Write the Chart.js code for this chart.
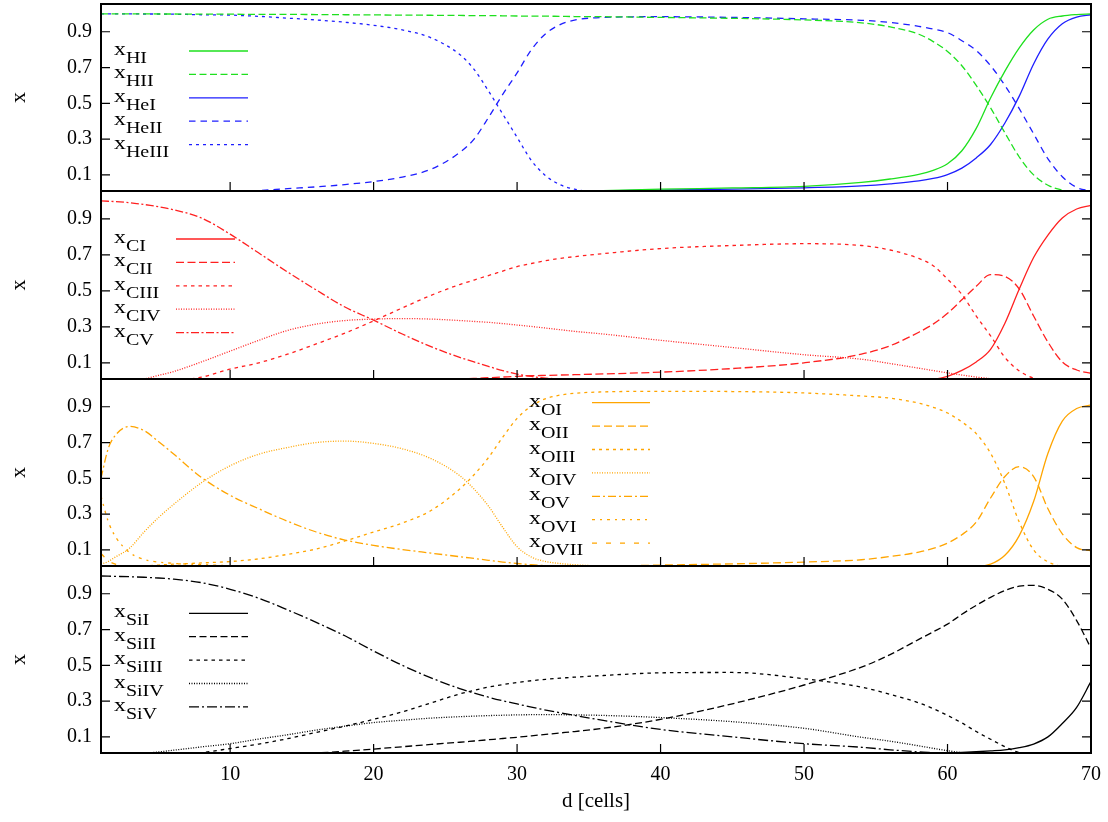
<!DOCTYPE html>
<html>
<head>
<meta charset="utf-8">
<script src="https://cdn.jsdelivr.net/npm/chart.js@4/dist/chart.umd.min.js"></script>
<style>
  body { margin: 0; background: #fff; width: 1108px; height: 822px; position: relative; overflow: hidden; }
  canvas { position: absolute; left: 0; }
</style>
</head>
<body>
<canvas id="p1" width="1108" height="231" style="top:-18px"></canvas>
<canvas id="p2" width="1108" height="232" style="top:169px"></canvas>
<canvas id="p3" width="1108" height="231" style="top:357px"></canvas>
<canvas id="p4" width="1111" height="278" style="top:544px"></canvas>
<script>
// cell positions where the curves were sampled
const cells = [1, 1.5, 2, 3, 4, 5, 6, 8, 10, 12, 14, 16, 18, 20, 22, 24, 26, 27, 28, 29, 30, 31, 32, 33, 34, 36, 40, 45, 50, 54, 56, 58, 59, 60, 61, 62, 63, 64, 65, 66, 67, 68, 69, 70];
const yTickValues = [0.1, 0.3, 0.5, 0.7, 0.9];
const xTickValues = [10, 20, 30, 40, 50, 60, 70];

// hydrogen / helium
const hLabels = ['HI', 'HII', 'HeI', 'HeII', 'HeIII'];
const xHI = [0,0,0,0,0,0,0,0,0,0,0,0,0,0,0,0,0,0,0,0,0,0,0, 0.005,0.008,0.012,0.02,0.027,0.036,0.058,0.077,0.103,0.125,0.162,0.235,0.36,0.53,0.68,0.81,0.91,0.97,0.988,0.996,1.0];
const xHII = [1,1,1,1,1,0.999,0.999,0.998,0.998,0.997,0.997,0.996,0.995,0.994,0.993,0.992,0.991,0.99,0.99,0.989,0.988,0.987,0.987,0.986,0.985,0.984,0.98,0.975,0.966,0.95,0.927,0.886,0.845,0.79,0.71,0.6,0.475,0.335,0.2,0.1,0.042,0.015,0.004,0];
const xHeI = [0,0,0,0,0,0,0,0,0,0,0,0,0,0,0,0,0,0,0,0,0,0,0,0, 0.006,0.01,0.015,0.02,0.028,0.039,0.05,0.066,0.08,0.102,0.138,0.195,0.27,0.39,0.54,0.72,0.86,0.945,0.982,0.995];
const xHeII = [0,0,0,0,0,0,0,0, 0.004,0.012,0.023,0.033,0.046,0.063,0.088,0.132,0.225,0.3,0.42,0.55,0.67,0.8,0.89,0.94,0.965,0.98,0.984,0.98,0.972,0.964,0.952,0.93,0.915,0.895,0.85,0.795,0.71,0.6,0.47,0.33,0.19,0.09,0.03,0.01];
const xHeIII = [1,1,1,1,0.999,0.999,0.998,0.995,0.993,0.986,0.976,0.966,0.953,0.936,0.91,0.866,0.773,0.69,0.57,0.44,0.31,0.18,0.095,0.045,0.02,0.004, 0,0,0,0,0,0,0,0,0,0,0,0,0,0,0,0,0,0];

// carbon
const cLabels = ['CI', 'CII', 'CIII', 'CIV', 'CV'];
const xCI = [0,0,0,0,0,0,0,0,0,0,0,0,0,0,0,0,0,0,0,0,0,0,0,0,0,0,0,0,0,0,0, 0.003,0.008,0.025,0.058,0.105,0.175,0.32,0.51,0.685,0.81,0.905,0.955,0.975];
const xCII = [0,0,0,0,0,0,0,0,0,0,0,0,0,0,0,0, 0.008,0.013,0.017,0.021,0.025,0.028,0.03,0.032,0.034,0.038,0.048,0.068,0.1,0.148,0.195,0.27,0.315,0.375,0.45,0.525,0.59,0.58,0.51,0.36,0.215,0.105,0.06,0.042];
const xCIII = [0,0,0,0,0,0,0.002,0.02,0.065,0.1,0.148,0.205,0.265,0.333,0.405,0.475,0.535,0.56,0.585,0.61,0.635,0.652,0.668,0.68,0.69,0.707,0.735,0.752,0.762,0.752,0.727,0.68,0.64,0.565,0.48,0.36,0.25,0.13,0.055,0.015,0.003,0,0,0];
const xCIV = [0,0,0,0.002,0.01,0.03,0.05,0.105,0.165,0.225,0.28,0.315,0.335,0.343,0.346,0.343,0.335,0.33,0.325,0.318,0.31,0.302,0.293,0.284,0.275,0.26,0.225,0.185,0.145,0.12,0.096,0.07,0.057,0.044,0.032,0.021,0.012,0.006,0.002,0,0,0,0,0];
const xCV = [1,0.998,0.996,0.99,0.98,0.968,0.952,0.905,0.815,0.71,0.605,0.505,0.41,0.337,0.26,0.19,0.13,0.105,0.08,0.057,0.037,0.024,0.015,0.01,0.007,0.003, 0,0,0,0,0,0,0,0,0,0,0,0,0,0,0,0,0,0];

// oxygen
const oLabels = ['OI', 'OII', 'OIII', 'OIV', 'OV', 'OVI', 'OVII'];
const xOI = [0,0,0,0,0,0,0,0,0,0,0,0,0,0,0,0,0,0,0,0,0,0,0,0,0,0,0,0,0,0,0,0,0,0,0, 0.004,0.02,0.07,0.18,0.37,0.64,0.82,0.89,0.91];
const xOII = [0,0,0,0,0,0,0,0,0,0,0,0,0,0,0,0,0,0,0,0,0,0,0,0, 0.003,0.008,0.015,0.022,0.032,0.045,0.063,0.088,0.108,0.138,0.185,0.255,0.39,0.51,0.565,0.51,0.33,0.19,0.113,0.095];
const xOIII = [0,0,0,0.005,0.01,0.015,0.02,0.027,0.035,0.05,0.075,0.105,0.15,0.2,0.25,0.32,0.44,0.52,0.615,0.73,0.835,0.905,0.945,0.965,0.975,0.983,0.986,0.985,0.977,0.96,0.948,0.92,0.897,0.865,0.815,0.75,0.64,0.47,0.255,0.1,0.033,0.008,0,0];
const xOIV = [0.02,0.035,0.06,0.11,0.2,0.28,0.35,0.475,0.57,0.635,0.672,0.7,0.708,0.695,0.665,0.61,0.515,0.44,0.345,0.226,0.118,0.06,0.035,0.024,0.017,0.01,0.003, 0,0,0,0,0,0,0,0,0,0,0,0,0,0,0,0,0];
const xOV = [0.5,0.665,0.74,0.79,0.767,0.706,0.64,0.505,0.405,0.33,0.26,0.2,0.155,0.125,0.102,0.082,0.062,0.052,0.042,0.032,0.024,0.017,0.012,0.008,0.005,0.002, 0,0,0,0,0,0,0,0,0,0,0,0,0,0,0,0,0,0];
const xOVI = [0.4,0.26,0.175,0.085,0.047,0.032,0.025,0.018,0.012,0.008,0.005,0.003,0.001, 0,0,0,0,0,0,0,0,0,0,0,0,0,0,0,0,0,0,0,0,0,0,0,0,0,0,0,0,0,0,0];
const xOVII = [0.08,0.04,0.02,0.005, 0,0,0,0,0,0,0,0,0,0,0,0,0,0,0,0,0,0,0,0,0,0,0,0,0,0,0,0,0,0,0,0,0,0,0,0,0,0,0,0];

// silicon
const siLabels = ['SiI', 'SiII', 'SiIII', 'SiIV', 'SiV'];
const xSiI = [0,0,0,0,0,0,0,0,0,0,0,0,0,0,0,0,0,0,0,0,0,0,0,0,0,0,0,0,0,0,0,0, 0.005,0.01,0.013,0.017,0.022,0.028,0.04,0.06,0.1,0.175,0.265,0.41];
const xSiII = [0,0,0,0,0,0,0,0,0,0, 0.002,0.01,0.02,0.032,0.045,0.058,0.07,0.077,0.084,0.091,0.098,0.106,0.114,0.122,0.13,0.148,0.198,0.285,0.39,0.49,0.56,0.645,0.687,0.73,0.785,0.835,0.88,0.918,0.942,0.947,0.925,0.87,0.75,0.595];
const xSiIII = [0,0,0,0,0,0,0.003,0.012,0.035,0.06,0.09,0.125,0.16,0.198,0.24,0.29,0.34,0.36,0.378,0.392,0.404,0.414,0.422,0.428,0.434,0.443,0.458,0.46,0.425,0.378,0.338,0.29,0.258,0.22,0.178,0.13,0.087,0.045,0.012,0.002,0,0,0,0];
const xSiIV = [0,0,0,0.002,0.008,0.016,0.025,0.044,0.062,0.088,0.112,0.138,0.16,0.18,0.193,0.205,0.213,0.216,0.219,0.221,0.223,0.224,0.224,0.224,0.223,0.22,0.208,0.185,0.148,0.098,0.076,0.05,0.036,0.023,0.012,0.005,0.002,0,0,0,0,0,0,0];
const xSiV = [0.999,0.998,0.997,0.995,0.992,0.988,0.982,0.962,0.925,0.875,0.81,0.74,0.665,0.58,0.5,0.43,0.37,0.345,0.322,0.302,0.284,0.266,0.25,0.235,0.22,0.192,0.142,0.1,0.062,0.042,0.028,0.016,0.012,0.008,0.005,0.002,0,0,0,0,0,0,0,0];

const serif = "'Liberation Serif', 'Times New Roman', serif";
const green = '#1ee01e', blue = '#1e1eff', red = '#ff2020', orange = '#ffa500', black = '#000000';

function points(values) {
  return values.map((v, i) => ({ x: cells[i], y: v }));
}

// box + inward tick marks like gnuplot
const framePlugin = {
  id: 'frame',
  afterDatasetsDraw(chart) {
    const { ctx, chartArea: a, scales } = chart;
    ctx.save();
    ctx.strokeStyle = '#000';
    ctx.lineWidth = 1.2;
    ctx.beginPath();
    yTickValues.forEach(v => {
      const y = scales.y.getPixelForValue(v);
      ctx.moveTo(a.left, y); ctx.lineTo(a.left + 9, y);
      ctx.moveTo(a.right, y); ctx.lineTo(a.right - 9, y);
    });
    xTickValues.forEach(v => {
      const x = scales.x.getPixelForValue(v);
      ctx.moveTo(x, a.bottom); ctx.lineTo(x, a.bottom - 9);
    });
    ctx.stroke();
    ctx.lineWidth = 2;
    ctx.strokeRect(a.left, a.top, a.right - a.left, a.bottom - a.top);
    ctx.restore();
  }
};

// legend with subscripts: x_{HI} etc.
const legendPlugin = {
  id: 'sublegend',
  afterDatasetsDraw(chart, args, o) {
    const { ctx, chartArea: a } = chart;
    chart.data.datasets.forEach((ds, i) => {
      const y = a.top + o.top + i * 23.4;
      ctx.save();
      ctx.fillStyle = '#000';
      ctx.textBaseline = 'alphabetic';
      ctx.translate(a.left + o.text, y + 4);
      ctx.scale(1.25, 1);
      ctx.font = '19px ' + serif;
      ctx.fillText('x', 0, 0);
      const w = ctx.measureText('x').width;
      ctx.font = '16px ' + serif;
      ctx.fillText(ds.sub, w, 8);
      ctx.restore();
      ctx.save();
      ctx.strokeStyle = ds.borderColor;
      ctx.lineWidth = ds.borderWidth;
      ctx.setLineDash(ds.borderDash);
      ctx.beginPath();
      ctx.moveTo(a.left + o.line0, y);
      ctx.lineTo(a.left + o.line1, y);
      ctx.stroke();
      ctx.restore();
    });
  }
};

function makePanel(id, labels, seriesList, colors, dashes, legendPos, isBottom) {
  const datasets = seriesList.map((vals, i) => ({
    label: 'x' + labels[i],
    sub: labels[i],
    data: points(vals),
    borderColor: colors[i],
    borderDash: dashes[i],
    borderWidth: 1.3,
    pointRadius: 0,
    cubicInterpolationMode: 'monotone',
    fill: false,
    clip: 0
  }));
  const xScale = {
    type: 'linear', min: 1, max: 70, display: isBottom,
    afterBuildTicks: s => { s.ticks = xTickValues.map(v => ({ value: v })); },
    grid: { display: false, drawTicks: false },
    border: { display: false },
    ticks: { color: '#000', font: { family: serif, size: 20 }, padding: 10, maxRotation: 0, autoSkip: false, callback: v => String(v) },
    title: { display: true, text: 'd [cells]', color: '#000', font: { family: serif, size: 21 }, padding: { top: 0, bottom: 8 } }
  };
  if (isBottom) xScale.afterFit = s => { s.height = 69; };
  new Chart(document.getElementById(id), {
    type: 'line',
    data: { datasets },
    options: {
      responsive: false,
      animation: false,
      events: [],
      layout: { padding: { left: 0, right: 17, top: 22, bottom: isBottom ? 0 : 22 } },
      plugins: { legend: { display: false }, tooltip: { enabled: false }, sublegend: legendPos },
      scales: {
        x: xScale,
        y: {
          min: 0.01, max: 1.055,
          afterBuildTicks: s => { s.ticks = yTickValues.map(v => ({ value: v })); },
          afterFit: s => { s.width = 101; },
          grid: { display: false, drawTicks: false },
          border: { display: false },
          ticks: { color: '#000', font: { family: serif, size: 20 }, padding: 9, autoSkip: false, callback: v => v.toFixed(1) },
          title: { display: true, text: 'x', color: '#000', font: { family: serif, size: 22 }, padding: { top: 6, bottom: 0 } }
        }
      }
    },
    plugins: [framePlugin, legendPlugin]
  });
}

makePanel('p1', hLabels, [xHI, xHII, xHeI, xHeII, xHeIII],
  [green, green, blue, blue, blue],
  [[], [7, 3.5], [], [6.5, 5], [3, 4]],
  { text: 13, line0: 88, line1: 147, top: 47 }, false);

makePanel('p2', cLabels, [xCI, xCII, xCIII, xCIV, xCV],
  [red, red, red, red, red],
  [[], [8, 3.5], [3.5, 4], [1, 1.5], [8, 2.5, 2, 2.5]],
  { text: 13, line0: 75, line1: 134, top: 48 }, false);

makePanel('p3', oLabels, [xOI, xOII, xOIII, xOIV, xOV, xOVI, xOVII],
  [orange, orange, orange, orange, orange, orange, orange],
  [[], [8, 4], [3, 4], [1, 1.5], [8, 3, 2, 3], [3, 5, 2, 5], [5, 9]],
  { text: 428, line0: 491, line1: 549, top: 23.7 }, false);

makePanel('p4', siLabels, [xSiI, xSiII, xSiIII, xSiIV, xSiV],
  [black, black, black, black, black],
  [[], [7, 3.5], [3.5, 4], [1, 1.5], [10, 3, 2, 3]],
  { text: 13, line0: 88, line1: 147, top: 47.3 }, true);
</script>
</body>
</html>
